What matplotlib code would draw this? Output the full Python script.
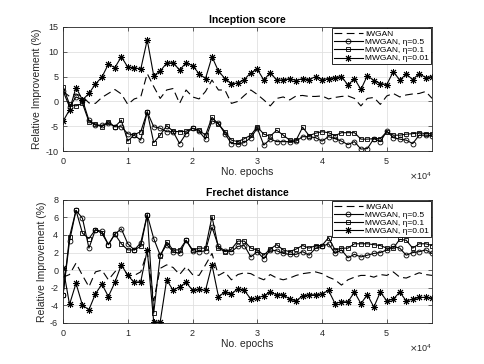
import matplotlib
matplotlib.use("Agg")
import matplotlib.pyplot as plt
import numpy as np

plt.rcParams['font.family'] = ['Liberation Sans', 'DejaVu Sans']
plt.rcParams['axes.unicode_minus'] = False

# epochs: one point every 1000 epochs
epochs = np.arange(58) * 1000

# ---- Inception score (relative improvement, %) ----
is_iwgan = [2.0, 1.0, 1.5, 1.0, -0.3, -0.4, 0.8, 1.6, 2.4, 1.5,
            -0.6, 0.5, 0.9, 5.6, 3.0, 0.6, 2.3, 2.6, -0.4, 2.3,
            0.9, 0.5, 2.0, 4.3, 2.3, 2.3, -0.4, 0.0, 1.2, 2.3,
            1.4, 0.3, -0.9, 0.6, 0.9, 0.3, 1.1, 1.2, 1.0, 1.0,
            1.1, 0.5, 0.8, 1.0, 1.1, 0.6, -0.9, 0.6, 0.8, -0.6,
            1.1, 1.6, 0.9, 1.3, 1.5, 1.6, 2.0, 0.6]
is_eta05 = [2.1, -1.1, 0.9, 0.3, -3.8, -4.8, -4.8, -4.4, -5.1, -5.1,
            -6.5, -6.8, -7.8, -2.1, -5.1, -5.4, -6.1, -6.1, -8.5, -6.5,
            -5.4, -6.0, -7.6, -3.9, -4.4, -6.5, -8.5, -8.5, -8.3, -7.3,
            -5.4, -8.8, -7.6, -8.1, -8.1, -8.1, -8.0, -7.1, -7.1, -7.3,
            -8.0, -7.1, -7.5, -8.0, -8.7, -8.1, -9.6, -9.5, -7.5, -8.1,
            -6.0, -7.3, -7.6, -7.8, -8.5, -6.8, -6.8, -6.9]
is_eta01 = [3.0, -0.6, -0.9, -0.4, -4.1, -4.6, -5.1, -4.1, -5.1, -3.8,
            -8.0, -6.7, -6.1, -2.1, -8.3, -6.8, -4.9, -6.0, -6.1, -6.0,
            -5.4, -5.8, -6.8, -3.2, -4.6, -6.1, -7.8, -8.1, -7.5, -6.8,
            -5.1, -6.6, -7.0, -5.8, -6.8, -7.8, -7.8, -5.2, -6.9, -6.4,
            -6.1, -6.3, -6.9, -6.3, -6.3, -6.3, -7.6, -7.6, -7.5, -7.5,
            -6.1, -6.8, -6.8, -6.6, -6.5, -6.3, -6.5, -6.5]
is_eta001 = [-4.0, -1.7, 2.8, 0.3, 1.6, 3.5, 4.9, 7.5, 6.8, 9.0,
             6.9, 6.8, 6.5, 12.4, 5.2, 6.1, 7.7, 7.8, 6.3, 7.8,
             7.2, 5.6, 4.6, 9.0, 6.1, 4.6, 3.6, 3.7, 4.4, 5.8,
             6.5, 4.3, 5.8, 4.3, 4.3, 4.6, 4.2, 4.6, 4.4, 5.0,
             4.4, 4.6, 4.8, 5.0, 3.3, 4.6, 2.4, 5.2, 4.2, 3.6,
             3.4, 6.0, 4.3, 5.5, 4.4, 5.6, 4.8, 5.0]

# ---- Frechet distance (relative improvement, %) ----
fd_iwgan = [-0.8, -0.5, 0.8, -0.6, -1.9, -0.2, 0.0, -1.1, -0.2, 0.6,
            -0.6, -0.6, -0.2, 2.1, -3.5, 0.2, 0.6, 0.3, -0.5, 0.4,
            -0.5, -0.6, 0.6, 1.9, -0.6, -0.2, -1.1, -0.5, -0.3, -0.4,
            -0.8, -1.1, -0.5, -0.9, -1.1, -0.9, -0.6, -0.4, -0.3, -0.2,
            -0.4, -0.8, -1.1, -1.7, -1.1, -0.8, -0.6, -0.6, -0.8, -0.5,
            -0.6, -0.2, -0.8, -0.9, -0.6, -0.3, -0.5, -0.6]
fd_eta05 = [-2.8, 3.3, 6.8, 5.9, 2.5, 4.6, 4.4, 2.9, 4.1, 4.7,
            3.0, 2.3, 3.1, 6.3, 3.6, 1.7, 2.9, 2.1, 1.9, 3.4,
            2.2, 2.1, 2.2, 4.9, 2.7, 2.2, 2.1, 2.7, 2.8, 1.5,
            2.1, 1.3, 2.3, 2.2, 1.9, 1.8, 1.8, 2.1, 1.7, 2.5,
            2.7, 3.0, 1.9, 2.3, 1.4, 1.8, 1.5, 1.7, 1.9, 2.0,
            2.3, 2.7, 2.5, 1.7, 2.0, 2.1, 2.3, 1.9]
fd_eta01 = [-2.8, 3.8, 6.8, 4.2, 3.6, 4.6, 4.2, 2.9, 4.1, 3.0,
            2.3, 2.3, 2.7, 6.3, -4.9, 1.6, 3.2, 2.3, 2.3, 3.4,
            2.3, 2.5, 2.5, 6.1, 2.5, 2.1, 2.4, 3.3, 3.3, 2.5,
            2.3, 1.7, 2.4, 2.9, 2.3, 2.1, 2.4, 2.8, 2.5, 2.8,
            2.8, 3.7, 2.3, 2.5, 2.5, 3.0, 3.0, 3.0, 2.9, 2.8,
            2.5, 2.5, 3.5, 3.4, 2.5, 3.0, 3.0, 2.8]
fd_eta001 = [0.3, -3.9, -1.5, -4.0, -4.5, -2.7, -1.6, -3.0, -1.4, 0.6,
             -0.6, -1.4, -1.3, 2.3, -5.9, -5.9, -1.1, -2.3, -1.9, -1.4,
             -2.3, -2.2, -2.3, 0.6, -3.0, -2.5, -2.7, -2.1, -2.3, -3.3,
             -3.2, -2.9, -2.5, -2.8, -2.8, -3.3, -3.5, -2.9, -2.8, -2.8,
             -2.7, -2.3, -3.8, -3.6, -3.6, -2.5, -3.8, -2.8, -4.2, -2.5,
             -3.5, -3.3, -2.5, -3.5, -3.3, -3.1, -3.1, -3.2]

labels = ['IWGAN', 'MWGAN, η=0.5', 'MWGAN, η=0.1', 'MWGAN, η=0.01']

fig = plt.figure(figsize=(4.85, 3.64), dpi=100)
ax1 = fig.add_axes([0.130, 0.585, 0.761, 0.341])
ax2 = fig.add_axes([0.130, 0.113, 0.761, 0.338])

panels = [
    (ax1, 'Inception score', [is_iwgan, is_eta05, is_eta01, is_eta001], (-10, 15), np.arange(-10, 16, 5)),
    (ax2, 'Frechet distance', [fd_iwgan, fd_eta05, fd_eta01, fd_eta001], (-6, 8), np.arange(-6, 9, 2)),
]

for ax, title, series, ylim, yticks in panels:
    ax.plot(epochs, series[0], color='black', linestyle=(0, (7, 4)), linewidth=0.8, label=labels[0])
    ax.plot(epochs, series[1], color='black', linewidth=0.8, marker='o', markersize=3.5,
            markerfacecolor='none', markeredgewidth=0.6, label=labels[1])
    ax.plot(epochs, series[2], color='black', linewidth=0.8, marker='s', markersize=3.2,
            markerfacecolor='none', markeredgewidth=0.6, label=labels[2])
    ax.plot(epochs, series[3], color='black', linewidth=0.8, marker=(8, 2, 0), markersize=5,
            markeredgewidth=0.7, label=labels[3])
    ax.set_xlim(0, 57000)
    ax.set_ylim(*ylim)
    ax.set_yticks(yticks)
    ax.set_xticks(np.arange(0, 57000, 10000))
    ax.ticklabel_format(axis='x', style='sci', scilimits=(4, 4), useMathText=True)
    ax.xaxis.get_offset_text().set_fontsize(6.5)
    ax.xaxis.get_offset_text().set_color('#262626')
    ax.grid(True, color='#e0e0e0', linewidth=0.6)
    ax.set_axisbelow(True)
    ax.tick_params(direction='in', labelsize=6.5, colors='#262626', length=3, width=0.5,
                   top=True, right=True)
    for sp in ax.spines.values():
        sp.set_color('#262626')
        sp.set_linewidth(0.6)
    ax.set_title(title, fontsize=7.5, fontweight='bold', pad=3)
    ax.set_xlabel('No. epochs', fontsize=7.5, color='#262626', labelpad=1)
    ax.set_ylabel('Relative Improvement (%)', fontsize=7.5, color='#262626', labelpad=2)
    leg = ax.legend(loc='upper right', fontsize=6, handlelength=3.5, handletextpad=0.3,
                    borderpad=0.2, labelspacing=0.05, borderaxespad=0.15, fancybox=False,
                    framealpha=1, edgecolor='black')
    leg.get_frame().set_linewidth(0.6)

fig.savefig('out.png', dpi=100)
